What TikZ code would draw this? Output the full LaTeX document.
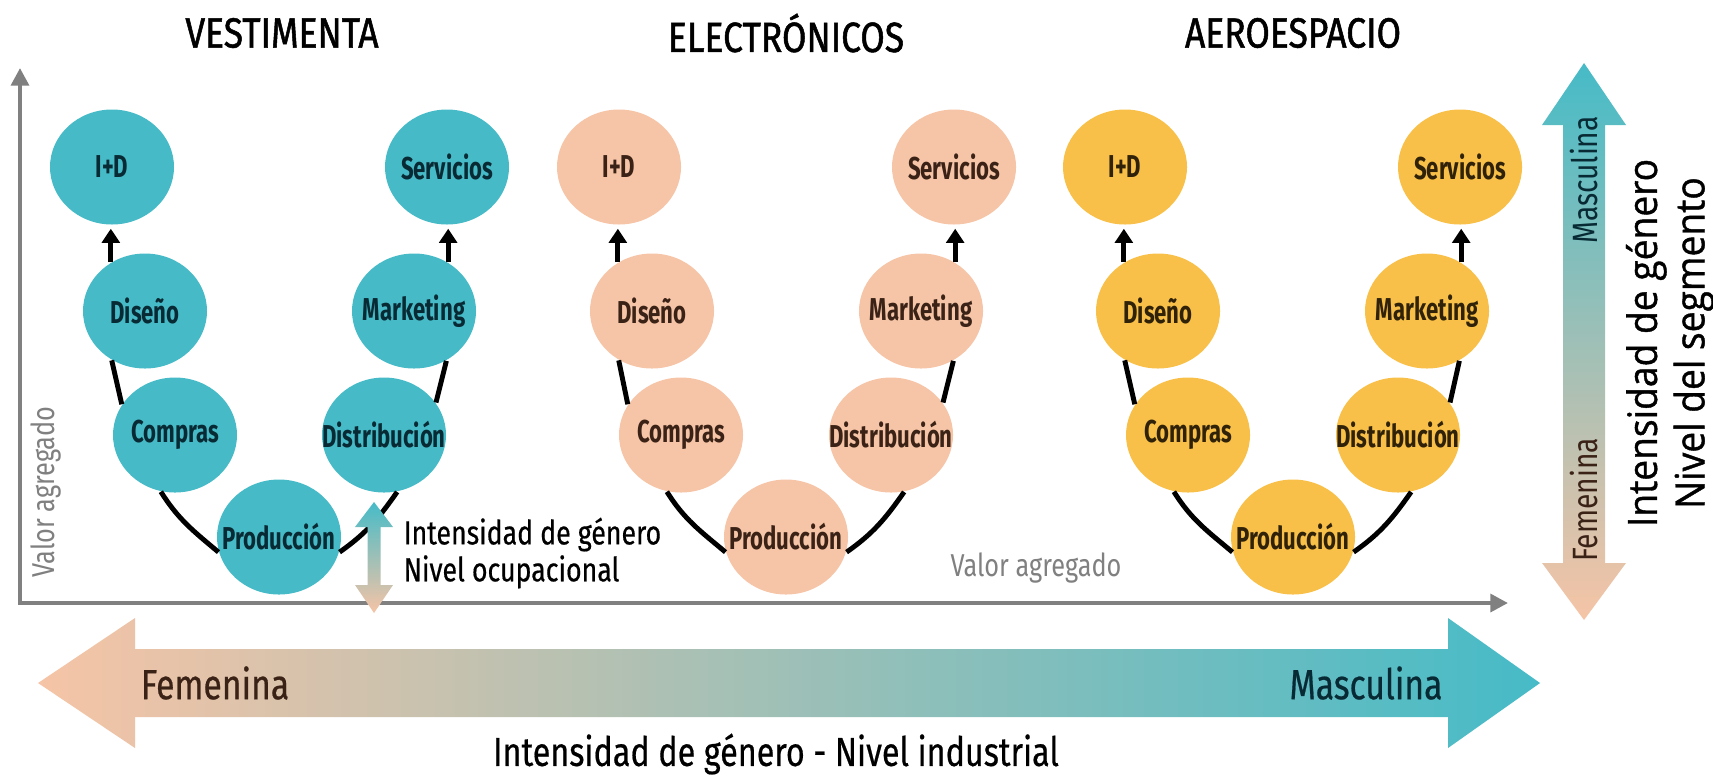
\documentclass[tikz,border=0pt]{standalone}
\usepackage{fontspec}
\setmainfont{Fira Sans}
\newfontfamily\stagefont[FakeStretch=0.7]{Fira Sans}
\newfontfamily\narrowfont[FakeStretch=0.8]{Fira Sans}
\newfontfamily\labelfont[FakeStretch=0.8,FakeBold=0.5]{Fira Sans}
\newfontfamily\headfont[FakeStretch=0.84,FakeBold=1.2]{Fira Sans}
\newfontfamily\sidefont[FakeStretch=0.92,FakeBold=1.0]{Open Sans}
\usetikzlibrary{arrows.meta,positioning,shapes.geometric}

\definecolor{vteal}{RGB}{70,187,199}
\definecolor{vtealtext}{RGB}{8,42,52}
\definecolor{epeach}{RGB}{246,196,166}
\definecolor{epeachtext}{RGB}{58,34,22}
\definecolor{agold}{RGB}{248,192,72}
\definecolor{agoldtext}{RGB}{48,34,8}
\definecolor{axisgrey}{RGB}{128,128,128}

\tikzset{
  stage/.style={ellipse, minimum width=1.24cm, minimum height=1.15cm, inner sep=0pt,
    font=\stagefont\bfseries\fontsize{9}{10}\selectfont,
    execute at begin node=\hbox to 0pt\bgroup\hss,
    execute at end node=\hss\egroup},
  vest/.style={stage, fill=vteal, text=vtealtext},
  elec/.style={stage, fill=epeach, text=epeachtext},
  aero/.style={stage, fill=agold, text=agoldtext},
  link/.style={line width=1.4pt},
  rise/.style={line width=1.4pt, -{Triangle[length=4pt,width=5pt]}, shorten >=1pt},
  axisline/.style={draw=axisgrey, line width=1.2pt,
    {Triangle[length=5pt,width=5pt]}-{Triangle[length=5pt,width=5pt]}},
  sector/.style={font=\headfont\fontsize{12}{14}\selectfont},
  pole/.style={font=\labelfont\fontsize{12}{14}\selectfont},
  axislabel/.style={text=axisgrey, font=\narrowfont\fontsize{9}{11}\selectfont},
}

\begin{document}
\begin{tikzpicture}
		\useasboundingbox (0,0) rectangle (17.13,7.78);

		% ejes
		\coordinate (ytop) at (0.20,7.10);
		\coordinate (orig) at (0.20,1.75);
		\coordinate (xend) at (15.08,1.75);
		\draw [axisline] (ytop) -- (orig) -- (xend);
		\node [axislabel, rotate=90] (valory) at (0.46,2.86) {Valor agregado};
		\node [axislabel] (valorx) at (10.36,2.10) {Valor agregado};

		% titulos
		\node [sector] (vesttitle) at (2.82,7.45) {VESTIMENTA};
		\node [sector] (electitle) at (7.86,7.45) {ELECTRÓNICOS};
		\node [sector] (aerotitle) at (12.93,7.45) {AEROESPACIO};

		% vestimenta
		\node [vest] (id1) at (1.12, 6.11) {I+D};
		\node [vest] (serv1) at (4.47, 6.11) {Servicios};
		\node [vest] (dis1) at (1.45, 4.67) {Diseño};
		\node [vest] (mkt1) at (4.14, 4.67) {Marketing};
		\node [vest] (comp1) at (1.75, 3.43) {Compras};
		\node [vest] (dist1) at (3.84, 3.43) {Distribución};
		\node [vest] (prod1) at (2.79, 2.41) {Producción};

		% electronicos
		\node [elec] (id2) at (6.19, 6.11) {I+D};
		\node [elec] (serv2) at (9.54, 6.11) {Servicios};
		\node [elec] (dis2) at (6.52, 4.67) {Diseño};
		\node [elec] (mkt2) at (9.21, 4.67) {Marketing};
		\node [elec] (comp2) at (6.81, 3.43) {Compras};
		\node [elec] (dist2) at (8.91, 3.43) {Distribución};
		\node [elec] (prod2) at (7.86, 2.41) {Producción};

		% aeroespacio
		\node [aero] (id3) at (11.25, 6.11) {I+D};
		\node [aero] (serv3) at (14.60, 6.11) {Servicios};
		\node [aero] (dis3) at (11.58, 4.67) {Diseño};
		\node [aero] (mkt3) at (14.27, 4.67) {Marketing};
		\node [aero] (comp3) at (11.88, 3.43) {Compras};
		\node [aero] (dist3) at (13.98, 3.43) {Distribución};
		\node [aero] (prod3) at (12.93, 2.41) {Producción};

		\draw [link] (dis1.236) -- (comp1.150);
		\draw [link] (comp1.256) to[out=-58, in=140] (prod1.194);
		\draw [link] (prod1.346) to[out=35, in=-125] (dist1.283);
		\draw [link] (dist1.32) -- (mkt1.303);
		\draw [rise] (dis1.125) -- (dis1.125 |- id1.south);
		\draw [rise] (mkt1.55) -- (mkt1.55 |- serv1.south);

		\draw [link] (dis2.236) -- (comp2.150);
		\draw [link] (comp2.256) to[out=-58, in=140] (prod2.194);
		\draw [link] (prod2.346) to[out=35, in=-125] (dist2.283);
		\draw [link] (dist2.32) -- (mkt2.303);
		\draw [rise] (dis2.125) -- (dis2.125 |- id2.south);
		\draw [rise] (mkt2.55) -- (mkt2.55 |- serv2.south);

		\draw [link] (dis3.236) -- (comp3.150);
		\draw [link] (comp3.256) to[out=-58, in=140] (prod3.194);
		\draw [link] (prod3.346) to[out=35, in=-125] (dist3.283);
		\draw [link] (dist3.32) -- (mkt3.303);
		\draw [rise] (dis3.125) -- (dis3.125 |- id3.south);
		\draw [rise] (mkt3.55) -- (mkt3.55 |- serv3.south);

		% nivel ocupacional
		\shade [top color=vteal, bottom color=epeach] (3.74,2.76) -- (3.93,2.51) -- (3.805,2.51) -- (3.805,1.93) -- (3.93,1.93)
			-- (3.74,1.65) -- (3.55,1.93) -- (3.675,1.93) -- (3.675,2.51) -- (3.55,2.51) -- cycle;
		\node [anchor=west, align=left, inner sep=0pt, font=\labelfont\fontsize{9.5}{10.5}\selectfont] (ocup) at (4.03,2.25)
			{Intensidad de género\\Nivel ocupacional};

		% nivel del segmento
		\shade [top color=vteal, bottom color=epeach] (15.84,7.15) -- (16.26,6.53) -- (16.05,6.53) -- (16.05,2.15) -- (16.26,2.15)
			-- (15.84,1.58) -- (15.42,2.15) -- (15.63,2.15) -- (15.63,6.53) -- (15.42,6.53) -- cycle;
		\node [rotate=90, text=vtealtext, font=\narrowfont\fontsize{10}{12}\selectfont] (segmasc) at (15.84,5.98) {Masculina};
		\node [rotate=90, text=epeachtext, font=\narrowfont\fontsize{10}{12}\selectfont] (segfem) at (15.84,2.78) {Femenina};
		\node [rotate=90, align=center, font=\sidefont\fontsize{11.5}{13.5}\selectfont] (segment) at (16.70,4.35)
			{Intensidad de género\\Nivel del segmento};

		% nivel industrial
		\shade [left color=epeach, right color=vteal] (0.38,0.95) -- (1.35,1.60) -- (1.35,1.29) -- (14.48,1.29) -- (14.48,1.60)
			-- (15.40,0.95) -- (14.48,0.30) -- (14.48,0.61) -- (1.35,0.61) -- (1.35,0.30) -- cycle;
		\node [pole, text=epeachtext] (indfem) at (2.15,0.95) {Femenina};
		\node [pole, text=vtealtext] (indmasc) at (13.66,0.95) {Masculina};
		\node [font=\labelfont\fontsize{11.5}{14}\selectfont] (industrial) at (7.76,0.24) {Intensidad de género - Nivel industrial};
\end{tikzpicture}
\end{document}
